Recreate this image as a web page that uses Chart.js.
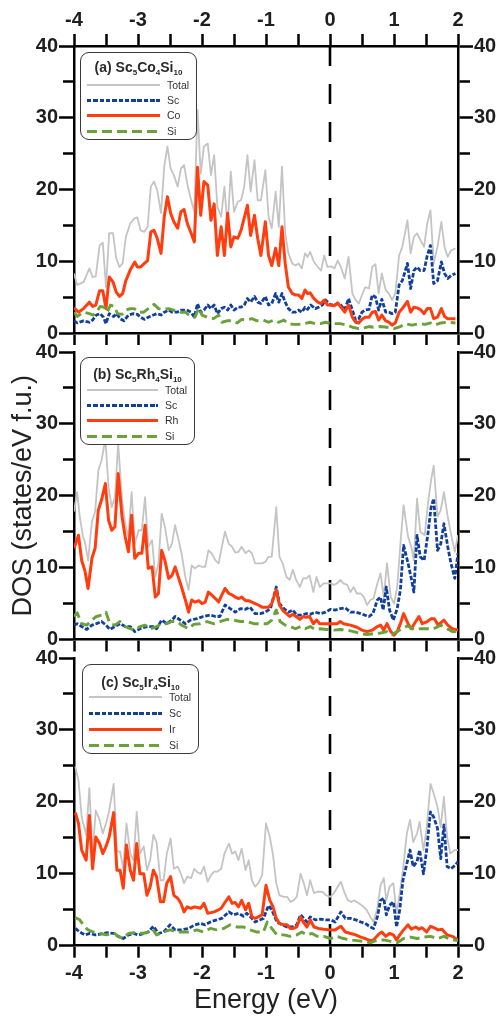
<!DOCTYPE html>
<html>
<head>
<meta charset="utf-8">
<script src="https://cdn.jsdelivr.net/npm/chart.js@4.4.1/dist/chart.umd.min.js"></script>
<style>
  html, body { margin: 0; padding: 0; background: #fff; }
  body { width: 499px; height: 1020px; position: relative; overflow: hidden;
         font-family: 'Liberation Sans', Arial, sans-serif; }
  canvas { position: absolute; left: 0; }
  .legend { position: absolute; box-sizing: border-box; border: 1.3px solid #3a3a3a;
            border-radius: 9px; background: #fff; color: #333; }
  .legend .ttl { position: absolute; left: 0; right: 0; text-align: center; line-height: 16px;
                 font-weight: bold; font-size: 14px; color: #2a2a2a; white-space: nowrap; }
  .legend sub { font-size: 8px; vertical-align: baseline; position: relative; top: 3px; }
  .legend .row { position: absolute; left: 6px; height: 16px; display: flex; align-items: center; }
  .legend .lbl { font-size: 10.5px; margin-left: 7px; color: #333; }
  .s-total { height: 2px; background: #c4c4c4; }
  .s-sc { height: 3px; background: repeating-linear-gradient(90deg, #123f9c 0 4.5px, transparent 4.5px 6.3px); }
  .s-metal { height: 3px; background: #ff3d0e; }
  .s-si { height: 3px; background: repeating-linear-gradient(90deg, #6aa23a 0 10px, transparent 10px 15px); }
</style>
</head>
<body>
<canvas id="dosA" width="499" height="350" style="top:0px"></canvas>
<canvas id="dosB" width="499" height="330" style="top:330px"></canvas>
<canvas id="dosC" width="499" height="384" style="top:636px"></canvas>
<script>
// Partial and total DOS of Sc5T4Si10 (T = Co, Rh, Ir)
// points are [energy (eV), DOS (states/eV f.u.)]

const energyTickValues = [-4, -3.5, -3, -2.5, -2, -1.5, -1, -0.5, 0, 0.5, 1, 1.5, 2];
const energyLabels = [-4, -3, -2, -1, 0, 1, 2];
const dosTickValues = [0, 5, 10, 15, 20, 25, 30, 35, 40];
const dosLabels = [0, 10, 20, 30, 40];
const fermiEnergy = 0;

// (a) Sc5Co4Si10
const aTotal = [[-4.00,8.3],[-3.95,6.7],[-3.85,7.1],[-3.76,9.0],[-3.71,7.8],[-3.66,7.9],[-3.60,12.2],[-3.55,12.6],[-3.50,6.4],[-3.45,13.9],[-3.39,13.9],[-3.34,10.4],[-3.29,9.2],[-3.24,9.7],[-3.19,13.4],[-3.12,15.3],[-3.05,16.0],[-3.01,16.1],[-2.96,14.3],[-2.90,14.1],[-2.85,14.8],[-2.80,20.4],[-2.75,21.1],[-2.70,19.9],[-2.64,16.7],[-2.59,23.2],[-2.54,26.0],[-2.49,22.9],[-2.44,22.0],[-2.38,20.4],[-2.33,22.9],[-2.28,23.4],[-2.23,20.8],[-2.17,18.5],[-2.12,16.9],[-2.07,31.1],[-2.02,22.2],[-1.97,26.0],[-1.91,26.4],[-1.86,22.0],[-1.81,24.8],[-1.76,17.6],[-1.70,16.2],[-1.65,20.4],[-1.60,14.8],[-1.55,22.5],[-1.50,16.9],[-1.44,18.3],[-1.39,18.5],[-1.34,20.4],[-1.29,24.8],[-1.24,19.7],[-1.18,24.1],[-1.13,18.5],[-1.08,18.5],[-1.01,22.7],[-0.96,16.2],[-0.91,14.6],[-0.85,19.7],[-0.80,14.8],[-0.75,23.2],[-0.70,13.9],[-0.65,11.1],[-0.59,9.7],[-0.54,9.4],[-0.49,9.7],[-0.44,9.0],[-0.39,11.1],[-0.35,10.6],[-0.31,11.3],[-0.25,9.9],[-0.19,9.2],[-0.14,8.7],[-0.09,10.8],[-0.04,9.2],[0.02,9.3],[0.07,9.0],[0.12,10.1],[0.17,9.2],[0.23,7.6],[0.29,10.6],[0.35,5.5],[0.40,4.6],[0.45,4.1],[0.50,5.3],[0.55,6.4],[0.61,6.2],[0.66,9.2],[0.71,9.6],[0.76,5.5],[0.81,8.3],[0.87,6.0],[0.92,5.5],[0.97,4.6],[1.02,5.5],[1.08,10.8],[1.13,12.0],[1.21,15.7],[1.26,11.1],[1.31,13.4],[1.36,13.9],[1.41,13.0],[1.47,12.0],[1.52,15.3],[1.57,17.1],[1.62,9.7],[1.68,12.0],[1.74,15.5],[1.79,12.0],[1.84,10.6],[1.89,11.5],[1.96,11.8]];
const aSc = [[-4.00,1.7],[-3.95,1.4],[-3.85,1.7],[-3.76,1.5],[-3.71,1.8],[-3.65,2.5],[-3.59,2.7],[-3.54,2.2],[-3.50,1.3],[-3.45,2.7],[-3.38,2.3],[-3.33,2.7],[-3.28,2.0],[-3.22,1.7],[-3.15,2.5],[-3.07,2.7],[-3.01,2.6],[-2.96,2.2],[-2.90,1.9],[-2.84,2.2],[-2.76,2.5],[-2.70,2.7],[-2.64,2.5],[-2.59,2.9],[-2.52,3.2],[-2.47,2.9],[-2.39,2.9],[-2.32,3.2],[-2.24,3.2],[-2.17,2.9],[-2.12,2.2],[-2.07,4.1],[-2.02,2.9],[-1.97,3.2],[-1.91,3.9],[-1.86,3.4],[-1.81,3.9],[-1.76,2.7],[-1.70,3.4],[-1.65,3.6],[-1.60,3.2],[-1.55,3.9],[-1.50,3.2],[-1.44,3.6],[-1.39,3.6],[-1.34,3.9],[-1.29,4.8],[-1.24,4.3],[-1.18,5.1],[-1.13,4.3],[-1.08,4.1],[-1.01,5.1],[-0.96,3.9],[-0.91,4.1],[-0.85,5.5],[-0.80,4.3],[-0.75,5.5],[-0.70,4.3],[-0.65,3.4],[-0.59,2.9],[-0.54,2.9],[-0.49,3.2],[-0.44,2.9],[-0.39,3.6],[-0.35,3.3],[-0.30,3.9],[-0.23,3.4],[-0.18,3.6],[-0.12,3.9],[-0.07,4.6],[0.01,3.9],[0.07,3.9],[0.12,4.1],[0.17,3.9],[0.23,3.2],[0.29,4.8],[0.35,3.2],[0.40,1.8],[0.45,2.0],[0.50,2.9],[0.55,3.2],[0.61,3.3],[0.66,5.3],[0.71,5.0],[0.76,3.2],[0.81,4.7],[0.87,2.9],[0.92,2.9],[0.97,2.7],[1.02,2.9],[1.08,6.7],[1.13,7.3],[1.21,9.7],[1.26,6.2],[1.31,8.7],[1.36,9.2],[1.41,8.7],[1.47,8.7],[1.52,10.8],[1.57,12.2],[1.62,6.9],[1.68,7.3],[1.74,9.9],[1.79,8.3],[1.84,7.6],[1.89,8.0],[1.96,8.3]];
const aCo = [[-4.00,3.5],[-3.93,2.9],[-3.85,3.4],[-3.76,4.3],[-3.71,3.7],[-3.66,3.9],[-3.60,5.9],[-3.55,5.9],[-3.50,3.4],[-3.45,7.8],[-3.39,7.1],[-3.34,5.7],[-3.29,5.1],[-3.24,5.5],[-3.19,7.3],[-3.12,8.8],[-3.05,9.9],[-3.01,9.2],[-2.96,9.2],[-2.90,9.7],[-2.85,10.1],[-2.80,14.1],[-2.75,14.3],[-2.70,13.2],[-2.64,11.1],[-2.59,16.2],[-2.54,19.0],[-2.49,16.7],[-2.44,15.5],[-2.38,14.6],[-2.33,16.9],[-2.28,17.2],[-2.23,15.3],[-2.17,13.9],[-2.12,12.7],[-2.07,23.1],[-2.02,16.4],[-1.97,21.1],[-1.91,20.6],[-1.86,15.7],[-1.81,18.0],[-1.76,10.8],[-1.70,14.8],[-1.65,10.8],[-1.60,16.7],[-1.55,12.0],[-1.50,13.4],[-1.44,13.2],[-1.39,14.3],[-1.29,17.8],[-1.24,13.6],[-1.18,16.4],[-1.13,13.2],[-1.08,10.8],[-1.01,15.5],[-0.96,10.8],[-0.91,9.4],[-0.85,11.8],[-0.80,9.4],[-0.75,14.8],[-0.70,9.7],[-0.65,6.4],[-0.59,5.5],[-0.54,5.3],[-0.49,5.3],[-0.44,4.8],[-0.39,6.0],[-0.35,5.5],[-0.31,5.6],[-0.25,4.8],[-0.19,4.3],[-0.14,4.1],[-0.09,4.6],[-0.04,3.9],[0.02,3.9],[0.07,3.8],[0.12,4.2],[0.17,3.6],[0.23,2.9],[0.29,3.9],[0.35,2.2],[0.40,1.5],[0.45,1.4],[0.50,1.9],[0.55,2.2],[0.61,2.2],[0.66,2.9],[0.71,3.0],[0.76,1.8],[0.81,2.5],[0.87,1.7],[0.92,1.5],[0.97,1.1],[1.02,1.4],[1.08,2.9],[1.13,3.4],[1.21,4.4],[1.26,2.9],[1.31,3.6],[1.36,3.5],[1.41,3.3],[1.47,2.7],[1.52,3.4],[1.57,3.4],[1.62,2.0],[1.68,2.2],[1.74,3.4],[1.79,2.3],[1.84,2.0],[1.89,2.0],[1.96,2.0]];
const aSi = [[-4.00,2.9],[-3.95,2.3],[-3.85,2.9],[-3.76,2.7],[-3.70,2.5],[-3.65,2.9],[-3.59,3.7],[-3.53,3.6],[-3.48,2.9],[-3.43,3.9],[-3.37,3.7],[-3.32,2.7],[-3.25,2.6],[-3.19,3.2],[-3.12,3.4],[-3.06,3.4],[-2.99,2.9],[-2.91,2.9],[-2.84,3.4],[-2.75,4.0],[-2.68,3.4],[-2.60,3.3],[-2.52,3.4],[-2.45,3.2],[-2.34,2.9],[-2.26,2.9],[-2.18,2.3],[-2.11,2.2],[-2.05,3.5],[-2.00,2.5],[-1.92,2.2],[-1.82,2.0],[-1.74,2.5],[-1.69,1.5],[-1.61,1.7],[-1.53,1.7],[-1.45,1.4],[-1.38,1.9],[-1.30,1.8],[-1.22,2.0],[-1.14,1.7],[-1.04,1.8],[-0.96,1.5],[-0.88,1.8],[-0.80,1.5],[-0.72,1.8],[-0.65,1.3],[-0.57,1.2],[-0.49,1.2],[-0.41,1.3],[-0.31,1.5],[-0.23,1.3],[-0.15,1.3],[-0.07,1.5],[0.01,1.3],[0.08,1.3],[0.16,1.3],[0.27,1.1],[0.35,0.8],[0.45,0.6],[0.53,0.7],[0.61,0.9],[0.68,0.8],[0.79,0.9],[0.89,0.8],[1.00,0.6],[1.10,0.9],[1.18,1.3],[1.28,1.1],[1.39,1.3],[1.49,1.2],[1.57,1.4],[1.64,1.1],[1.73,1.4],[1.83,1.5],[1.96,1.4]];

// (b) Sc5Rh4Si10
const bTotal = [[-4.00,17.8],[-3.95,20.5],[-3.91,17.1],[-3.86,14.3],[-3.83,13.6],[-3.78,11.0],[-3.72,16.4],[-3.67,17.8],[-3.62,23.5],[-3.57,24.9],[-3.51,27.9],[-3.46,21.2],[-3.41,18.4],[-3.36,19.8],[-3.31,27.3],[-3.25,19.6],[-3.20,16.1],[-3.15,14.3],[-3.10,20.5],[-3.05,13.3],[-2.99,15.2],[-2.94,15.2],[-2.89,19.8],[-2.84,12.9],[-2.78,13.8],[-2.73,8.7],[-2.68,10.6],[-2.63,17.5],[-2.58,15.7],[-2.52,12.4],[-2.47,13.3],[-2.42,15.9],[-2.37,14.0],[-2.32,12.0],[-2.26,8.7],[-2.21,6.9],[-2.16,10.3],[-2.11,9.9],[-2.05,10.3],[-2.00,10.1],[-1.95,10.1],[-1.90,12.4],[-1.85,12.0],[-1.79,11.0],[-1.74,10.6],[-1.69,12.9],[-1.64,15.0],[-1.58,13.3],[-1.53,12.9],[-1.48,12.1],[-1.43,12.2],[-1.38,12.9],[-1.32,12.0],[-1.27,12.4],[-1.22,12.0],[-1.17,10.6],[-1.12,10.6],[-1.06,10.6],[-1.01,10.8],[-0.96,11.5],[-0.91,11.5],[-0.84,18.4],[-0.79,11.5],[-0.74,10.6],[-0.68,8.7],[-0.63,8.3],[-0.58,9.7],[-0.53,8.3],[-0.47,7.3],[-0.42,8.5],[-0.37,8.5],[-0.32,8.9],[-0.26,6.6],[-0.21,8.7],[-0.16,7.3],[-0.10,7.8],[-0.05,7.8],[0.01,7.8],[0.06,7.6],[0.11,7.8],[0.16,8.3],[0.21,7.8],[0.27,7.6],[0.32,6.6],[0.37,7.3],[0.42,6.4],[0.48,6.4],[0.53,5.9],[0.58,4.8],[0.63,5.5],[0.68,5.7],[0.74,7.8],[0.79,9.2],[0.84,5.9],[0.89,10.6],[0.95,5.9],[1.00,5.0],[1.05,7.3],[1.10,13.3],[1.15,18.7],[1.22,14.3],[1.27,12.9],[1.31,11.0],[1.36,19.6],[1.41,15.0],[1.48,14.5],[1.53,18.9],[1.58,22.2],[1.62,24.2],[1.68,17.1],[1.73,18.0],[1.78,20.5],[1.84,17.1],[1.89,14.7],[1.95,12.2],[2.00,14.5]];
const bSc = [[-4.00,2.0],[-3.95,2.2],[-3.88,1.8],[-3.80,1.4],[-3.72,2.0],[-3.65,2.2],[-3.57,2.5],[-3.50,2.0],[-3.44,1.4],[-3.36,1.8],[-3.28,2.2],[-3.20,1.8],[-3.12,1.8],[-3.05,1.1],[-2.97,1.5],[-2.86,1.8],[-2.77,1.8],[-2.71,1.5],[-2.63,2.7],[-2.55,2.2],[-2.47,2.7],[-2.42,3.2],[-2.34,2.7],[-2.26,2.2],[-2.18,2.7],[-2.08,2.9],[-1.98,3.2],[-1.87,3.4],[-1.79,3.2],[-1.72,3.2],[-1.64,4.8],[-1.56,4.3],[-1.48,3.8],[-1.40,4.3],[-1.32,4.2],[-1.25,4.5],[-1.17,3.6],[-1.09,3.6],[-1.01,3.8],[-0.93,4.3],[-0.84,7.3],[-0.79,5.0],[-0.72,4.3],[-0.65,3.8],[-0.58,4.1],[-0.52,3.4],[-0.44,3.4],[-0.37,3.6],[-0.31,3.5],[-0.23,3.8],[-0.15,3.6],[-0.07,3.8],[0.01,4.2],[0.08,4.1],[0.16,4.3],[0.24,4.4],[0.32,3.8],[0.40,3.8],[0.48,3.6],[0.54,3.4],[0.61,3.2],[0.67,3.6],[0.74,5.5],[0.79,5.9],[0.83,4.1],[0.88,7.3],[0.93,4.1],[0.99,2.7],[1.05,4.3],[1.10,6.9],[1.15,13.1],[1.22,10.6],[1.27,8.5],[1.31,6.6],[1.36,14.5],[1.41,11.5],[1.47,11.0],[1.53,14.7],[1.58,18.4],[1.62,19.6],[1.68,12.4],[1.73,13.3],[1.78,16.1],[1.84,12.9],[1.89,10.6],[1.95,8.5],[2.00,12.0]];
const bRh = [[-4.00,12.7],[-3.93,14.5],[-3.88,11.0],[-3.83,9.6],[-3.78,7.1],[-3.72,11.3],[-3.67,12.7],[-3.62,18.0],[-3.57,19.4],[-3.51,21.7],[-3.46,16.6],[-3.41,15.2],[-3.36,15.7],[-3.31,23.1],[-3.25,17.1],[-3.20,14.3],[-3.15,12.2],[-3.10,17.3],[-3.05,11.3],[-2.99,12.0],[-2.94,12.0],[-2.89,15.9],[-2.84,9.9],[-2.78,10.1],[-2.73,5.9],[-2.68,6.4],[-2.63,12.4],[-2.58,11.0],[-2.52,8.5],[-2.47,8.9],[-2.42,10.1],[-2.37,8.7],[-2.32,7.3],[-2.26,5.5],[-2.21,3.8],[-2.16,5.5],[-2.11,5.2],[-2.05,5.4],[-2.00,5.0],[-1.95,5.2],[-1.90,6.6],[-1.85,6.2],[-1.79,5.7],[-1.74,5.2],[-1.69,6.2],[-1.64,7.1],[-1.58,6.4],[-1.53,6.2],[-1.48,5.9],[-1.43,5.7],[-1.38,5.9],[-1.32,5.4],[-1.27,5.4],[-1.22,5.2],[-1.17,5.0],[-1.12,4.8],[-1.06,4.5],[-1.01,4.5],[-0.96,4.5],[-0.91,5.0],[-0.84,6.9],[-0.79,4.8],[-0.74,4.1],[-0.68,3.6],[-0.63,3.2],[-0.58,3.5],[-0.53,3.2],[-0.47,2.8],[-0.42,3.2],[-0.37,3.1],[-0.32,3.2],[-0.26,2.2],[-0.21,2.7],[-0.16,2.2],[-0.10,2.2],[0.01,2.2],[0.11,2.2],[0.16,2.5],[0.21,2.2],[0.32,2.0],[0.42,1.7],[0.50,1.3],[0.58,1.1],[0.66,1.3],[0.74,1.8],[0.79,2.0],[0.84,1.3],[0.89,2.2],[0.95,1.1],[1.00,0.6],[1.05,1.1],[1.10,2.2],[1.15,3.6],[1.22,2.2],[1.27,1.5],[1.34,2.5],[1.39,3.2],[1.44,2.2],[1.52,2.5],[1.58,2.9],[1.63,2.9],[1.69,2.0],[1.78,2.7],[1.84,2.0],[1.91,1.5],[2.00,1.3]];
const bSi = [[-4.00,3.2],[-3.95,3.7],[-3.88,2.2],[-3.80,2.0],[-3.72,2.7],[-3.65,3.2],[-3.57,3.4],[-3.50,3.8],[-3.44,2.2],[-3.36,2.0],[-3.28,2.5],[-3.20,1.8],[-3.12,1.5],[-3.05,1.3],[-2.97,1.8],[-2.89,2.0],[-2.81,1.5],[-2.71,1.8],[-2.63,2.2],[-2.55,2.2],[-2.47,2.5],[-2.39,2.5],[-2.32,2.0],[-2.21,1.5],[-2.13,2.1],[-2.03,2.2],[-1.92,2.5],[-1.82,2.2],[-1.72,2.5],[-1.61,2.8],[-1.51,2.7],[-1.40,2.5],[-1.30,2.5],[-1.19,2.2],[-1.09,2.2],[-0.98,2.2],[-0.91,2.7],[-0.84,4.1],[-0.78,2.5],[-0.70,2.0],[-0.62,1.8],[-0.54,1.5],[-0.46,1.8],[-0.39,1.5],[-0.31,1.8],[-0.23,1.4],[-0.15,1.5],[-0.05,1.4],[0.06,1.3],[0.16,1.4],[0.27,1.3],[0.37,1.1],[0.48,0.8],[0.58,0.7],[0.68,0.8],[0.79,0.9],[0.89,1.1],[0.97,0.7],[1.05,1.1],[1.13,1.5],[1.21,1.9],[1.31,1.4],[1.41,1.5],[1.52,1.5],[1.62,1.5],[1.73,2.0],[1.83,1.5],[1.91,1.1],[2.00,1.1]];

// (c) Sc5Ir4Si10
const cTotal = [[-3.98,24.9],[-3.93,23.0],[-3.88,17.9],[-3.81,15.4],[-3.76,21.9],[-3.71,12.8],[-3.66,18.8],[-3.60,17.5],[-3.55,15.6],[-3.50,17.0],[-3.45,18.8],[-3.38,22.5],[-3.33,13.1],[-3.28,13.1],[-3.23,10.7],[-3.18,17.0],[-3.12,12.8],[-3.07,11.9],[-3.02,18.6],[-2.97,12.8],[-2.91,13.8],[-2.86,10.5],[-2.81,11.9],[-2.76,15.4],[-2.71,14.4],[-2.65,9.1],[-2.60,9.1],[-2.55,12.8],[-2.49,14.9],[-2.44,10.7],[-2.38,11.0],[-2.33,10.0],[-2.28,8.7],[-2.23,9.6],[-2.17,9.4],[-2.12,10.7],[-2.07,10.2],[-2.02,10.0],[-1.97,11.0],[-1.91,8.9],[-1.86,9.8],[-1.81,10.3],[-1.76,10.3],[-1.70,10.7],[-1.65,12.8],[-1.58,14.2],[-1.53,12.8],[-1.48,13.1],[-1.43,11.9],[-1.38,13.5],[-1.32,10.5],[-1.27,11.9],[-1.22,9.1],[-1.17,8.2],[-1.12,8.7],[-1.06,9.8],[-1.00,17.0],[-0.94,15.1],[-0.89,12.6],[-0.84,8.7],[-0.79,7.0],[-0.72,6.8],[-0.67,6.8],[-0.62,6.1],[-0.57,6.3],[-0.52,6.8],[-0.46,10.0],[-0.41,8.7],[-0.36,7.0],[-0.31,9.1],[-0.25,7.3],[-0.20,7.5],[-0.12,7.5],[-0.06,7.0],[0.01,6.8],[0.06,7.3],[0.12,8.2],[0.17,8.9],[0.23,7.3],[0.28,6.3],[0.33,6.1],[0.38,6.3],[0.45,5.9],[0.50,5.6],[0.57,5.0],[0.63,4.0],[0.68,3.3],[0.74,5.2],[0.79,8.4],[0.84,9.4],[0.88,6.3],[0.93,8.2],[0.99,8.7],[1.04,4.5],[1.09,7.3],[1.14,10.5],[1.20,15.6],[1.25,17.5],[1.30,14.4],[1.36,15.6],[1.40,17.2],[1.46,13.3],[1.51,16.3],[1.57,22.5],[1.62,21.2],[1.68,19.3],[1.73,16.5],[1.78,20.7],[1.83,15.1],[1.88,12.8],[1.94,13.3],[2.00,13.3]];
const cSc = [[-3.98,2.4],[-3.91,1.9],[-3.83,1.5],[-3.75,1.7],[-3.67,1.5],[-3.59,1.6],[-3.49,1.8],[-3.38,1.7],[-3.31,1.3],[-3.23,1.0],[-3.15,1.5],[-3.07,1.7],[-2.99,1.5],[-2.91,1.7],[-2.84,1.9],[-2.76,2.7],[-2.68,1.7],[-2.60,1.9],[-2.50,2.9],[-2.42,2.2],[-2.32,2.2],[-2.21,2.4],[-2.11,2.9],[-2.03,3.1],[-1.95,2.9],[-1.87,3.3],[-1.77,3.6],[-1.69,3.8],[-1.58,4.7],[-1.51,4.3],[-1.43,4.5],[-1.35,4.1],[-1.30,4.5],[-1.22,3.8],[-1.17,3.3],[-1.09,3.6],[-1.04,3.8],[-0.96,5.6],[-0.91,5.0],[-0.83,3.3],[-0.75,2.9],[-0.67,2.6],[-0.59,2.6],[-0.52,2.9],[-0.46,4.3],[-0.41,3.8],[-0.36,3.3],[-0.31,4.0],[-0.23,3.6],[-0.15,3.7],[-0.07,3.6],[0.01,3.6],[0.08,3.3],[0.17,4.7],[0.24,3.8],[0.32,3.8],[0.40,3.6],[0.48,3.3],[0.55,3.1],[0.63,2.6],[0.68,2.4],[0.74,4.0],[0.79,6.3],[0.84,6.6],[0.88,4.3],[0.93,5.6],[0.99,6.1],[1.04,2.6],[1.09,5.0],[1.14,9.1],[1.20,11.4],[1.25,13.3],[1.30,11.0],[1.36,11.7],[1.40,13.3],[1.46,10.0],[1.51,13.3],[1.57,18.6],[1.62,17.9],[1.68,16.3],[1.73,12.1],[1.78,16.8],[1.83,11.0],[1.89,10.7],[1.96,11.2],[2.00,11.7]];
const cIr = [[-3.98,18.5],[-3.93,17.0],[-3.88,13.3],[-3.81,11.9],[-3.76,18.1],[-3.71,10.7],[-3.66,15.1],[-3.60,14.2],[-3.55,12.8],[-3.50,13.8],[-3.45,15.1],[-3.38,18.5],[-3.33,10.5],[-3.28,10.5],[-3.23,8.0],[-3.18,14.0],[-3.12,10.5],[-3.07,9.1],[-3.02,14.2],[-2.97,10.0],[-2.91,10.0],[-2.86,7.0],[-2.81,8.2],[-2.76,10.5],[-2.71,9.6],[-2.65,6.1],[-2.60,6.1],[-2.55,8.7],[-2.49,9.6],[-2.44,7.0],[-2.38,6.6],[-2.33,5.9],[-2.28,4.7],[-2.23,5.4],[-2.17,5.2],[-2.12,5.4],[-2.07,5.3],[-2.02,5.2],[-1.97,5.9],[-1.91,4.5],[-1.86,4.6],[-1.81,4.7],[-1.76,4.9],[-1.70,5.2],[-1.65,5.9],[-1.58,6.8],[-1.53,5.9],[-1.48,6.0],[-1.43,5.4],[-1.38,6.3],[-1.32,5.0],[-1.27,5.9],[-1.22,4.0],[-1.17,3.8],[-1.12,4.0],[-1.06,4.3],[-1.00,8.4],[-0.94,6.3],[-0.89,5.4],[-0.84,3.8],[-0.79,3.1],[-0.72,2.9],[-0.67,2.9],[-0.62,2.4],[-0.57,2.4],[-0.52,2.6],[-0.46,4.0],[-0.41,3.2],[-0.36,2.6],[-0.31,3.6],[-0.25,2.6],[-0.18,2.4],[-0.10,2.3],[0.01,2.2],[0.08,2.2],[0.17,2.7],[0.24,1.9],[0.32,1.7],[0.40,1.5],[0.48,1.2],[0.55,1.0],[0.63,0.7],[0.68,0.8],[0.76,1.6],[0.81,1.9],[0.87,1.3],[0.93,1.7],[0.99,1.5],[1.04,0.8],[1.09,1.5],[1.15,2.2],[1.22,2.9],[1.27,2.3],[1.34,2.6],[1.39,2.3],[1.44,2.5],[1.51,1.9],[1.57,2.7],[1.62,2.5],[1.69,2.2],[1.75,2.3],[1.83,1.5],[1.91,1.3],[2.00,0.8]];
const cSi = [[-3.98,3.9],[-3.91,3.6],[-3.84,2.7],[-3.78,2.2],[-3.70,1.9],[-3.59,1.7],[-3.49,1.5],[-3.38,1.8],[-3.31,1.3],[-3.23,1.0],[-3.15,1.7],[-3.07,1.8],[-2.97,1.7],[-2.86,1.8],[-2.78,2.4],[-2.71,1.5],[-2.60,1.9],[-2.50,2.2],[-2.39,1.9],[-2.29,1.9],[-2.18,1.9],[-2.08,2.2],[-1.98,1.9],[-1.87,2.4],[-1.77,2.2],[-1.66,2.4],[-1.56,2.9],[-1.45,2.6],[-1.35,2.6],[-1.25,2.2],[-1.14,1.9],[-1.04,1.9],[-0.98,3.3],[-0.91,2.4],[-0.83,1.5],[-0.72,1.5],[-0.62,1.3],[-0.52,1.5],[-0.44,1.9],[-0.36,1.5],[-0.28,1.7],[-0.20,1.3],[-0.10,1.3],[0.01,1.0],[0.11,1.3],[0.21,1.0],[0.32,0.8],[0.42,0.7],[0.53,0.6],[0.63,0.4],[0.74,0.8],[0.84,0.8],[0.95,0.6],[1.05,0.4],[1.15,1.0],[1.26,1.2],[1.36,1.0],[1.47,1.2],[1.57,1.3],[1.68,1.0],[1.78,1.3],[1.88,0.9],[2.00,0.7]];

const legendA = ['(a) Sc<sub>5</sub>Co<sub>4</sub>Si<sub>10</sub>', 'Total', 'Sc', 'Co', 'Si'];
const legendB = ['(b) Sc<sub>5</sub>Rh<sub>4</sub>Si<sub>10</sub>', 'Total', 'Sc', 'Rh', 'Si'];
const legendC = ['(c) Sc<sub>5</sub>Ir<sub>4</sub>Si<sub>10</sub>', 'Total', 'Sc', 'Ir', 'Si'];

const FONT = "'Liberation Sans', Arial, sans-serif";
const tickFont = { family: FONT, size: 20, weight: 'bold' };
const INK = '#1e1e1e';

const lineStyles = {
  total: { borderColor: '#c4c4c4', borderWidth: 1.8, borderDash: [] },
  sc:    { borderColor: '#123f9c', borderWidth: 2.8, borderDash: [4.5, 1.8] },
  metal: { borderColor: '#ff3d0e', borderWidth: 3, borderDash: [] },
  si:    { borderColor: '#6aa23a', borderWidth: 2.9, borderDash: [10, 5] }
};

const toPoints = pairs => pairs.map(([x, y]) => ({ x, y }));

function xScale(position, showLabels, height, title) {
  return {
    type: 'linear', position, min: -4, max: 2,
    afterBuildTicks: s => { s.ticks = energyTickValues.map(v => ({ value: v })); },
    afterFit: s => { s.height = height; },
    ticks: {
      display: showLabels, autoSkip: false, maxRotation: 0, padding: position === 'top' ? 2 : 4,
      color: INK, font: tickFont,
      callback: v => energyLabels.includes(v) ? String(v) : ''
    },
    grid: { drawOnChartArea: false, drawTicks: true, tickLength: 12, tickWidth: 2.5, tickColor: '#000' },
    border: { display: true, width: 2.5, color: '#000' },
    title: title
      ? { display: true, text: title, color: '#222', font: { family: FONT, size: 27 }, padding: { top: 0, bottom: 3 } }
      : { display: false }
  };
}

function yScale(position, title) {
  // minor ticks are shorter: dash away the outer part of the tick mark
  const minorDash = position === 'left' ? [0, 4, 30] : [10.5, 30];
  return {
    type: 'linear', position, min: 0, max: 40,
    afterBuildTicks: s => { s.ticks = dosTickValues.map(v => ({ value: v })); },
    afterFit: s => { s.width = position === 'left' ? 74 : 41; },
    ticks: {
      padding: 1, color: INK, font: tickFont,
      callback: v => dosLabels.includes(v) ? String(v) : ''
    },
    grid: {
      drawOnChartArea: false, drawTicks: true, tickLength: 15, tickWidth: 2.5, tickColor: '#000',
      tickBorderDash: ctx => (ctx.tick && dosLabels.includes(ctx.tick.value)) ? [] : minorDash
    },
    border: { display: true, width: 2.5, color: '#000' },
    title: title
      ? { display: true, text: title, color: '#222', font: { family: FONT, size: 27 }, padding: { top: 7, bottom: 0 } }
      : { display: false }
  };
}

function renderPanel(canvasId, series, names, layout) {
  const common = { pointRadius: 0, fill: false, tension: 0, borderJoinStyle: 'round', borderCapStyle: 'butt' };
  const datasets = [
    { label: names[3], data: toPoints(series.si), order: 0, ...common, ...lineStyles.si },
    { label: names[2], data: toPoints(series.metal), order: 1, ...common, ...lineStyles.metal },
    { label: names[1], data: toPoints(series.sc), order: 2, ...common, ...lineStyles.sc },
    { label: names[0], data: toPoints(series.total), order: 3, ...common, ...lineStyles.total },
    {
      label: 'EF', order: 4, ...common,
      data: [{ x: fermiEnergy, y: 40 }, { x: fermiEnergy, y: 0 }],
      borderColor: '#000', borderWidth: 2.6, borderDash: [20, 18]
    }
  ];

  const scales = {
    x: xScale('bottom', layout.bottomLabels, layout.bottomH, layout.xTitle),
    y: yScale('left', layout.yTitle),
    y2: yScale('right', null)
  };
  if (layout.topAxis) scales.x2 = xScale('top', true, layout.topH, null);

  return new Chart(document.getElementById(canvasId), {
    type: 'line',
    data: { datasets },
    options: {
      responsive: false,
      animation: false,
      devicePixelRatio: 1,
      events: [],
      layout: { padding: { top: layout.padTop, left: 0, right: 0, bottom: 0 } },
      plugins: { legend: { display: false }, tooltip: { enabled: false } },
      scales
    }
  });
}

function buildLegend(items, box) {
  const el = document.createElement('div');
  el.className = 'legend';
  Object.assign(el.style, { left: box.left + 'px', top: box.top + 'px', width: box.w + 'px', height: box.h + 'px' });
  const ttl = document.createElement('div');
  ttl.className = 'ttl';
  ttl.style.top = (box.titleY - 8) + 'px';
  ttl.innerHTML = items[0];
  el.appendChild(ttl);
  const kinds = ['s-total', 's-sc', 's-metal', 's-si'];
  items.slice(1).forEach((name, i) => {
    const row = document.createElement('div');
    row.className = 'row';
    row.style.top = (box.rows[i] - 8) + 'px';
    row.style.left = box.lineX + 'px';
    const sample = document.createElement('div');
    sample.className = kinds[i];
    sample.style.width = box.lineW + 'px';
    const lbl = document.createElement('span');
    lbl.className = 'lbl';
    lbl.textContent = name;
    row.appendChild(sample);
    row.appendChild(lbl);
    el.appendChild(row);
  });
  document.body.appendChild(el);
}

renderPanel('dosA', { total: aTotal, sc: aSc, metal: aCo, si: aSi }, legendA.slice(1),
  { topAxis: true, topH: 46, bottomH: 17, bottomLabels: false, padTop: 0, yTitle: null, xTitle: null });
renderPanel('dosB', { total: bTotal, sc: bSc, metal: bRh, si: bSi }, legendB.slice(1),
  { topAxis: false, bottomH: 20.5, bottomLabels: false, padTop: 22, yTitle: 'DOS (states/eV f.u.)', xTitle: null });
renderPanel('dosC', { total: cTotal, sc: cSc, metal: cIr, si: cSi }, legendC.slice(1),
  { topAxis: false, bottomH: 74.3, bottomLabels: true, padTop: 22, yTitle: null, xTitle: 'Energy (eV)' });

buildLegend(legendA, { left: 80, top: 52, w: 117, h: 88, titleY: 14, rows: [31.5, 47, 62, 78], lineX: 6, lineW: 73 });
buildLegend(legendB, { left: 80, top: 357, w: 115, h: 88, titleY: 16, rows: [31.5, 47, 62, 78], lineX: 6, lineW: 71 });
buildLegend(legendC, { left: 82, top: 664, w: 117, h: 90, titleY: 17, rows: [32, 48, 64, 80], lineX: 6, lineW: 73 });
</script>
</body>
</html>
